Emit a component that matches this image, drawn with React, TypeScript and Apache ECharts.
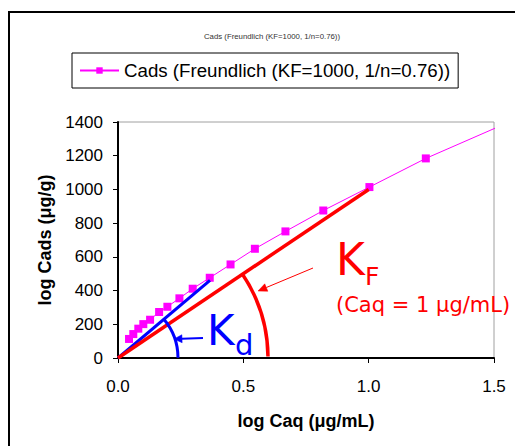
import React, { useEffect, useRef } from "react";
import * as echarts from "echarts";

const chartTitle = "Cads (Freundlich (KF=1000, 1/n=0.76))";
const seriesName = "Cads (Freundlich (KF=1000, 1/n=0.76))";
const xAxisName = "log Caq (μg/mL)";
const yAxisName = "log Cads (μg/g)";

// Freundlich isotherm markers
const caqValues = [0.044, 0.061, 0.081, 0.101, 0.128, 0.164, 0.197, 0.245, 0.298, 0.366, 0.449, 0.546, 0.668, 0.819, 1.003, 1.228];
const cadsValues = [113, 142, 174, 201, 227, 273, 304, 354, 411, 476, 555, 648, 751, 875, 1014, 1184];
// line continues past the plot without a marker
const curveEnd = [1.527, 1378];

// tangent lines
const kfLine = [[0, 0], [1.0, 1000]];
const kdLine = [[0, 0], [0.367, 460]];

const xMin = 0, xMax = 1.5, xInterval = 0.5;
const yMin = 0, yMax = 1400, yInterval = 200;

const FONT = "'Liberation Sans', Arial, sans-serif";
const ANN_FONT = "'DejaVu Sans', Verdana, sans-serif";

function arrow(tail: number[], tip: number[], color: string, width: number, headLen: number, headHalf: number) {
  const dx = tip[0] - tail[0], dy = tip[1] - tail[1];
  const len = Math.hypot(dx, dy);
  const ux = dx / len, uy = dy / len;
  const bx = tip[0] - ux * headLen, by = tip[1] - uy * headLen;
  const px = -uy, py = ux;
  return [
    { type: "line", silent: true, z: 100, shape: { x1: tail[0], y1: tail[1], x2: bx, y2: by }, style: { stroke: color, lineWidth: width } },
    {
      type: "polygon", silent: true, z: 100,
      shape: { points: [[tip[0], tip[1]], [bx + px * headHalf, by + py * headHalf], [bx - px * headHalf, by - py * headHalf]] },
      style: { fill: color, stroke: color, lineWidth: 0.5 },
    },
  ];
}

export default function App() {
  const ref = useRef<HTMLDivElement>(null);
  useEffect(() => {
    document.body.style.margin = "0";
    const chart = echarts.init(ref.current!, null, { renderer: "svg" });
    const curveData: any[] = caqValues.map((x, i) => [x, cadsValues[i]]);
    curveData.push({ value: curveEnd, symbol: "none" });
    const option: any = {
      animation: false,
      backgroundColor: "#fff",
      title: {
        text: chartTitle,
        left: 267,
        top: 27,
        textAlign: "center",
        textStyle: { fontSize: 7.8, fontWeight: "normal", color: "#333", fontFamily: FONT },
      },
      legend: {
        data: [seriesName],
        left: 72,
        top: 53,
        padding: [8, 8, 8, 7],
        itemWidth: 39,
        itemHeight: 8,
        itemGap: 5,
        borderColor: "#000",
        borderWidth: 1,
        textStyle: { fontSize: 18.7, color: "#000", fontFamily: FONT },
      },
      grid: {
        left: 118, right: 21, top: 122, bottom: 88,
        show: true, borderColor: "#a0a0a0", borderWidth: 1,
        containLabel: false,
      },
      xAxis: {
        type: "value", min: xMin, max: xMax, interval: xInterval,
        name: xAxisName, nameLocation: "middle", nameGap: 54,
        nameTextStyle: { fontSize: 18, fontWeight: "bold", color: "#000", fontFamily: FONT },
        axisLine: { show: true, lineStyle: { color: "#000", width: 2 } },
        axisTick: { show: true, inside: false, length: 5, lineStyle: { color: "#000", width: 1 } },
        axisLabel: { fontSize: 17, color: "#000", fontFamily: FONT, margin: 20, formatter: (v: number) => v.toFixed(1) },
        splitLine: { show: false },
      },
      yAxis: {
        type: "value", min: yMin, max: yMax, interval: yInterval,
        name: yAxisName, nameLocation: "middle", nameGap: 63, nameRotate: 90,
        nameTextStyle: { fontSize: 18, fontWeight: "bold", color: "#000", fontFamily: FONT },
        axisLine: { show: true, lineStyle: { color: "#000", width: 2 } },
        axisTick: { show: true, inside: false, length: 5, lineStyle: { color: "#000", width: 1 } },
        axisLabel: { fontSize: 17, color: "#000", fontFamily: FONT, margin: 15, formatter: (v: number) => String(v) },
        splitLine: { show: false },
      },
      series: [
        {
          name: seriesName, type: "line", data: curveData, clip: false,
          symbol: "rect", symbolSize: 8, showAllSymbol: true,
          lineStyle: { color: "#ff00ff", width: 1 },
          itemStyle: { color: "#ff00ff" },
          z: 2,
        },
        {
          name: "Kd", type: "line", data: kdLine, symbol: "none",
          lineStyle: { color: "#0000ff", width: 3 }, z: 3,
        },
        {
          name: "KF", type: "line", data: kfLine, symbol: "none",
          lineStyle: { color: "#ff0000", width: 3.5 }, z: 4,
        },
      ],
    };
    chart.setOption(option);

    const o = chart.convertToPixel({ gridIndex: 0 }, [0, 0]) as number[];
    const kfEnd = chart.convertToPixel({ gridIndex: 0 }, kfLine[1]) as number[];
    const kdEnd = chart.convertToPixel({ gridIndex: 0 }, kdLine[1]) as number[];
    const kfAng = Math.atan2(kfEnd[1] - o[1], kfEnd[0] - o[0]);
    const kdAng = Math.atan2(kdEnd[1] - o[1], kdEnd[0] - o[0]);

    const graphic: any[] = [
      {
        type: "polyline", silent: true, z: 100,
        shape: { points: [[9, 446], [9, 12], [515, 12]] },
        style: { stroke: "#000", lineWidth: 2, fill: null },
      },
      {
        type: "arc", silent: true, z: 100,
        shape: { cx: o[0], cy: o[1], r: 150, startAngle: kfAng, endAngle: -0.01, clockwise: true },
        style: { stroke: "#ff0000", lineWidth: 3.5, fill: null },
      },
      {
        type: "arc", silent: true, z: 100,
        shape: { cx: o[0], cy: o[1], r: 60, startAngle: kdAng, endAngle: -0.005, clockwise: true },
        style: { stroke: "#0000ff", lineWidth: 3, fill: null },
      },
      ...arrow([203, 338], [174, 339], "#0000ff", 2, 8, 4),
      ...arrow([313, 268], [258, 291], "#ff0000", 1, 9, 4),
      { type: "text", silent: true, z: 100, style: { text: "K", x: 207, y: 330, fontSize: 42, fontFamily: ANN_FONT, fill: "#0000ff", verticalAlign: "middle" } },
      { type: "text", silent: true, z: 100, style: { text: "d", x: 235, y: 345, fontSize: 29, fontFamily: ANN_FONT, fill: "#0000ff", verticalAlign: "middle" } },
      { type: "text", silent: true, z: 100, style: { text: "K", x: 336, y: 259, fontSize: 44, fontFamily: ANN_FONT, fill: "#ff0000", verticalAlign: "middle" } },
      { type: "text", silent: true, z: 100, style: { text: "F", x: 365, y: 276, fontSize: 25, fontFamily: ANN_FONT, fill: "#ff0000", verticalAlign: "middle" } },
      { type: "text", silent: true, z: 100, style: { text: "(Caq = 1 μg/mL)", x: 336, y: 305, fontSize: 21, fontFamily: ANN_FONT, fill: "#ff0000", verticalAlign: "middle" } },
    ];
    chart.setOption({ graphic });
    return () => chart.dispose();
  }, []);
  return <div ref={ref} style={{ width: 515, height: 446 }} />;
}
